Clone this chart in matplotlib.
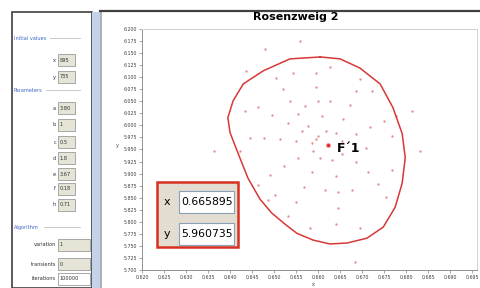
import matplotlib.pyplot as plt
from matplotlib.patches import Rectangle
import numpy as np

# invariant curve (red loop)
curve_x = [0.6605, 0.6650, 0.6695, 0.6741, 0.6770, 0.6791, 0.6798, 0.6791, 0.6775,
           0.6748, 0.6711, 0.6666, 0.6627, 0.6589, 0.6552, 0.6525, 0.6495, 0.6468,
           0.6441, 0.6420, 0.6400, 0.6395, 0.6407, 0.6430, 0.6475, 0.6536, 0.6605]
curve_y = [6.142, 6.138, 6.119, 6.086, 6.037, 5.983, 5.933, 5.880, 5.830,
           5.789, 5.766, 5.756, 5.754, 5.762, 5.776, 5.795, 5.818, 5.847,
           5.890, 5.938, 5.985, 6.016, 6.051, 6.086, 6.113, 6.138, 6.142]

# orbit points (pink dots)
dot_x = [0.6600, 0.6577, 0.6555, 0.6536, 0.6520, 0.6505,
         0.6618, 0.6609, 0.6600, 0.6596, 0.6596,
         0.6641, 0.6657, 0.6673, 0.6686, 0.6696,
         0.6655, 0.6686, 0.6718, 0.6750, 0.6777,
         0.6655, 0.6686, 0.6714, 0.6736, 0.6755,
         0.6632, 0.6641, 0.6646, 0.6646, 0.6641,
         0.6605, 0.6586, 0.6568, 0.6550, 0.6532,
         0.6589, 0.6555, 0.6523, 0.6491, 0.6464,
         0.6586, 0.6550, 0.6514, 0.6477, 0.6446,
         0.6596, 0.6564, 0.6532, 0.6496, 0.6464,
         0.6434, 0.6423, 0.6486, 0.6582, 0.6696, 0.6768, 0.6768, 0.6723, 0.6627, 0.6543,
         0.6616, 0.6677, 0.6709, 0.6627, 0.6571, 0.6502,
         0.6436, 0.6364, 0.6684, 0.6832, 0.6814, 0.6559, 0.6480, 0.6411]
dot_y = [5.9789, 5.9996, 6.0244, 6.0512, 6.0760, 6.0987,
         5.9892, 6.0202, 6.0512, 6.0801, 6.1091,
         5.9851, 6.0140, 6.0430, 6.0719, 6.0967,
         5.9686, 5.9830, 5.9975, 6.0099, 6.0202,
         5.9417, 5.9231, 5.9025, 5.8777, 5.8508,
         5.9273, 5.8942, 5.8611, 5.8281, 5.7950,
         5.9314, 5.9025, 5.8715, 5.8405, 5.8116,
         5.9479, 5.9314, 5.9149, 5.8963, 5.8756,
         5.9644, 5.9686, 5.9727, 5.9748, 5.9748,
         5.9727, 5.9892, 6.0058, 6.0223, 6.0388,
         6.0306, 5.9479, 5.8446, 5.7868, 5.7868, 5.9066, 5.9789, 6.0719, 6.1215, 6.1091,
         5.8653, 5.8653, 5.9521, 6.0512, 6.0409, 5.8550,
         6.1132, 5.9479, 5.7165, 5.9479, 6.0306, 6.1752, 6.1587, 5.8136]

fixed_x = [0.6623]
fixed_y = [5.960]

W, H = 481, 288


def P(x, y):
    return x / W, 1 - y / H


fig = plt.figure(figsize=(4.81, 2.88), dpi=100)

# ---- left panel ----
fig.add_artist(Rectangle(P(12, 288), 80 / W, 276 / H, transform=fig.transFigure,
                         facecolor='white', edgecolor='#404040', lw=1.2))
fig.add_artist(Rectangle(P(92, 288), 9 / W, 276 / H, transform=fig.transFigure,
                         facecolor='#c3d4ea', edgecolor='none'))
fig.add_artist(Rectangle(P(100, 288), 2 / W, 276 / H, transform=fig.transFigure,
                         facecolor='#b0b0b0', edgecolor='none'))
fig.add_artist(plt.Line2D([100 / W, 1], [1 - 11 / H, 1 - 11 / H], color='#404040', lw=1.6))

blue = '#3a66c4'
for label, yy, x1 in [('Initial values', 38, 50), ('Parameters', 90, 46), ('Algorithm', 227, 44)]:
    fig.text(*P(14, yy), label, color=blue, fontsize=3.6, va='center')
    fig.add_artist(plt.Line2D([x1 / W, 80 / W], [1 - yy / H] * 2, color='#c0c0c0', lw=0.6))

fields = [('x', '895', 60), ('y', '735', 77), ('a', '3.80', 108), ('b', '1', 125),
          ('c', '0.5', 142), ('d', '1.8', 158), ('e', '3.67', 174), ('f', '0.18', 189),
          ('h', '0.71', 205)]
for name, val, yy in fields:
    fig.text(*P(56, yy), name, fontsize=3.6, ha='right', va='center', color='#303030')
    fig.add_artist(Rectangle(P(58, yy + 6), 17 / W, 12 / H, transform=fig.transFigure,
                             facecolor='#e6e4d6', edgecolor='#9a9a9a', lw=0.6))
    fig.text(*P(60, yy), val, fontsize=3.6, va='center', color='#303030')

algo = [('variation', '1', 245, '#e6e4d6'), ('transients', '0', 264, '#e6e4d6'),
        ('iterations', '100000', 279, 'white')]
for name, val, yy, fc in algo:
    fig.text(*P(56, yy), name, fontsize=3.6, ha='right', va='center', color='#303030')
    fig.add_artist(Rectangle(P(58, yy + 6), 32 / W, 12 / H, transform=fig.transFigure,
                             facecolor=fc, edgecolor='#9a9a9a', lw=0.6))
    fig.text(*P(60, yy), val, fontsize=3.6, va='center', color='#303030')

# ---- chart ----
fig.text(*P(296, 17), 'Rosenzweig 2', fontsize=8, fontweight='bold', ha='center', va='center')

ax = fig.add_axes([142 / W, 18 / H, 335 / W, 241 / H])
ax.scatter(dot_x, dot_y, s=3, color='#e39494', linewidths=0)
ax.plot(curve_x, curve_y, color='#d83838', lw=1.1)
ax.scatter(fixed_x, fixed_y, s=14, color='#f06060', linewidths=0, alpha=0.6)
ax.scatter(fixed_x, fixed_y, s=5, color='#e02020', linewidths=0)
ax.annotate('F\u00b41', (fixed_x[0], fixed_y[0]), xytext=(6, -3), textcoords='offset points',
            fontsize=9, fontweight='bold', va='center')

ax.set_xlim(0.620, 0.6961)
ax.set_ylim(5.700, 6.200)
ax.set_xticks(np.arange(0.620, 0.6961, 0.005))
ax.set_yticks(np.arange(5.700, 6.2001, 0.025))
ax.xaxis.set_major_formatter(plt.FormatStrFormatter('%.3f'))
ax.yaxis.set_major_formatter(plt.FormatStrFormatter('%.3f'))
ax.tick_params(labelsize=3.4, length=2, width=0.5, colors='#808080', labelcolor='#404040', pad=1.5)
for side in ['top', 'right']:
    ax.spines[side].set_color('#d0d0d0')
for side in ['left', 'bottom']:
    ax.spines[side].set_color('#909090')
for s in ax.spines.values():
    s.set_linewidth(0.7)

fig.text(*P(117, 145), 'y', fontsize=3.6, ha='center', va='center', color='#404040')
fig.text(*P(313, 284), 'x', fontsize=3.6, ha='center', va='center', color='#404040')

# ---- coordinate readout box ----
fig.add_artist(Rectangle(P(157, 247), 81 / W, 65 / H, transform=fig.transFigure,
                         facecolor='#e2ddd0', edgecolor='#d83020', lw=1.8, zorder=5))
for lab, val, yy in [('x', '0.665895', 202), ('y', '5.960735', 234)]:
    fig.add_artist(Rectangle(P(179, yy + 11), 55 / W, 22 / H, transform=fig.transFigure,
                             facecolor='white', edgecolor='#8aa0b8', lw=0.8, zorder=6))
    fig.text(*P(167, yy), lab, fontsize=8, ha='center', va='center', zorder=7)
    fig.text(*P(181, yy), val, fontsize=7.8, va='center', zorder=7)

fig.savefig('out.png', dpi=100)
